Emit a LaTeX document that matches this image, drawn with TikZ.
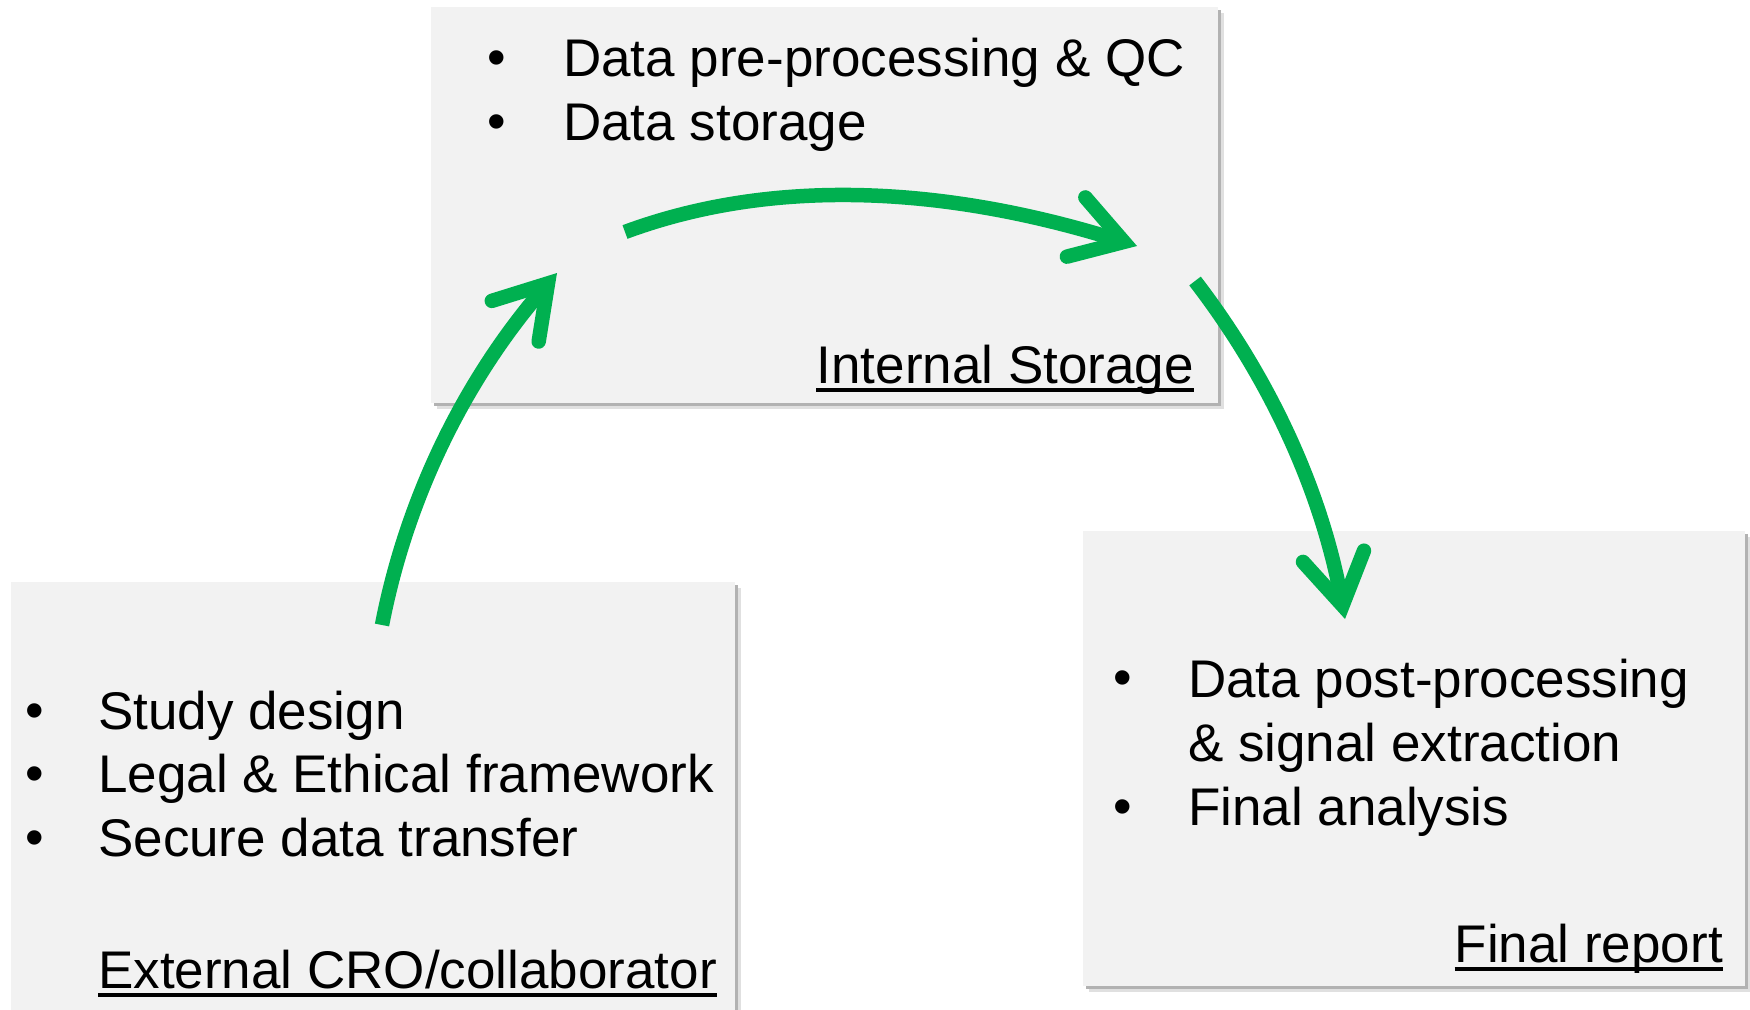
\documentclass[tikz,border=0pt]{standalone}
\usepackage{fontspec}
\setmainfont{Liberation Sans}
\usetikzlibrary{arrows.meta}
\definecolor{panel}{HTML}{F2F2F2}
\definecolor{flow}{HTML}{00B050}

\begin{document}
\begin{tikzpicture}[x=1pt,y=-1pt,
  panelbox/.style={fill=panel, draw=none},
  shadowA/.style={fill=black!12, draw=none},
  shadowB/.style={fill=black!30, draw=none},
  txt/.style={anchor=base west, inner sep=0pt, font=\fontsize{53}{64}\selectfont},
  bul/.style={anchor=center, inner sep=0pt, font=\fontsize{53}{64}\selectfont},
  flowarrow/.style={draw=flow, line width=14.5pt, line cap=butt,
    -{Straight Barb[length=50pt, width=62pt, line cap=round, line join=miter]}},
  uline/.style={line width=4pt}
]
\useasboundingbox (0,0) rectangle (1750,1009);

% panels with soft drop shadows
\foreach \xa/\ya/\xb/\yb in {431/7/1218/403, 11/582/735/1030, 1083/531/1745/986}{
  \fill[shadowA] (\xa+6,\ya+6) rectangle (\xb+6,\yb+6);
  \fill[shadowB] (\xa+3,\ya+3) rectangle (\xb+3,\yb+3);
  \fill[panelbox] (\xa,\ya) rectangle (\xb,\yb);
}

% internal storage panel
\node[bul] (b1) at (497,63) {•};
\node[txt] (t1) at (563,76) {Data pre-processing \& QC};
\node[bul] (b2) at (497,127) {•};
\node[txt] (t2) at (563,140) {Data storage};
\node[txt, anchor=base east] (lint) at (1194,383) {Internal Storage};
\draw[uline] ([yshift=-7pt]lint.base west) -- ([yshift=-7pt]lint.base east);

% external panel
\node[bul] (b3) at (35,716) {•};
\node[txt] (t3) at (98,729) {Study design};
\node[bul] (b4) at (35,779) {•};
\node[txt] (t4) at (98,792) {Legal \& Ethical framework};
\node[bul] (b5) at (35,843) {•};
\node[txt] (t5) at (98,856) {Secure data transfer};
\node[txt] (lext) at (98,988) {External CRO/collaborator};
\draw[uline] ([yshift=-7pt]lext.base west) -- ([yshift=-7pt]lext.base east);

% final report panel
\node[bul] (b6) at (1123,683) {•};
\node[txt] (t6) at (1188,697) {Data post-processing};
\node[txt] (t7) at (1188,761) {\& signal extraction};
\node[bul] (b7) at (1123,812) {•};
\node[txt] (t8) at (1188,825) {Final analysis};
\node[txt, anchor=base east] (lrep) at (1723,962) {Final report};
\draw[uline] ([yshift=-7pt]lrep.base west) -- ([yshift=-7pt]lrep.base east);

% flow arrows
\coordinate (a1s) at (382,625);
\coordinate (a1e) at (557,273);
\coordinate (a2s) at (625,232);
\coordinate (a2e) at (1137,246);
\coordinate (a3s) at (1195,281);
\coordinate (a3e) at (1345,619);
\draw[flowarrow] (a1s) .. controls (407,496) and (466,378) .. (a1e);
\draw[flowarrow] (a2s) .. controls (768,179) and (938,184) .. (a2e);
\draw[flowarrow] (a3s) .. controls (1272,381) and (1322,494) .. (a3e);
\end{tikzpicture}
\end{document}
